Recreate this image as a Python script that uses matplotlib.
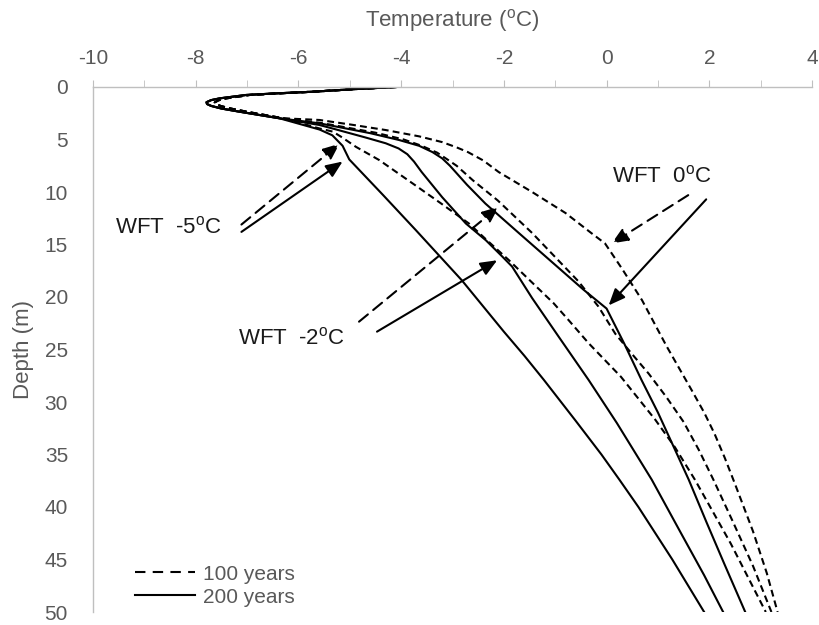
import matplotlib.pyplot as plt
from matplotlib.lines import Line2D
from matplotlib.ticker import MultipleLocator

plt.rcParams['font.family'] = ['Liberation Sans', 'DejaVu Sans']
plt.rcParams['mathtext.fontset'] = 'custom'
plt.rcParams['mathtext.rm'] = 'Liberation Sans'
plt.rcParams['axes.unicode_minus'] = False

GREY = '#595959'

# near-surface part (seasonal swing), slightly different for the two runs
nose_t_200 = [-4.09, -4.9, -5.72, -6.4, -7.02, -7.53, -7.7, -7.79, -7.78, -7.7, -7.5, -7.15, -6.37]
nose_d_200 = [0.0, 0.2, 0.45, 0.6, 0.76, 1.08, 1.25, 1.45, 1.62, 1.8, 2.05, 2.35, 2.98]
nose_t_100 = [-4.09, -4.9, -5.72, -6.35, -6.95, -7.4, -7.56, -7.63, -7.6, -7.5, -7.3, -6.98, -6.3]
nose_d_100 = [0.0, 0.2, 0.45, 0.6, 0.76, 1.08, 1.27, 1.47, 1.65, 1.83, 2.07, 2.38, 2.98]

# WFT -5 C
t100_m5 = [-5.59, -5.33, -5.15, -4.88, -4.43, -3.78, -3.22, -2.68, -2.35, -1.9, -1.71,
           -1.03, -0.74, -0.35, 0.28, 0.95, 1.33, 1.72, 2.42, 3.1]
d100_m5 = [3.95, 4.25, 4.8, 5.7, 6.95, 9.17, 11.1, 13.0, 14.5, 16.5, 17.4,
           20.6, 22.2, 24.4, 27.6, 31.7, 34.3, 37.4, 43.5, 50.0]
t200_m5 = [-5.59, -5.34, -5.14, -5.01, -4.35, -3.72, -2.82, -2.0, -1.6, -1.22, -0.6, -0.1,
           0.25, 0.62, 1.28, 1.9]
d200_m5 = [4.05, 4.6, 5.6, 6.9, 10.3, 13.6, 18.4, 23.3, 25.6, 27.9, 31.8, 35.0,
           37.4, 40.0, 45.0, 50.0]

# WFT -2 C
t100_m2 = [-5.59, -4.5, -3.95, -3.6, -3.3, -3.1, -2.92, -2.6, -2.12, -1.45, -1.0, -0.55,
           -0.16, 0.17, 0.49, 0.82, 1.16, 1.5, 1.8, 2.08, 2.45, 2.85, 3.21]
d100_m2 = [3.4, 4.35, 5.0, 5.6, 6.25, 6.9, 7.5, 8.9, 10.8, 13.9, 16.2, 18.5,
           20.9, 23.5, 25.4, 27.3, 29.5, 31.9, 34.6, 37.4, 41.3, 45.6, 50.0]
t200_m2 = [-5.59, -5.3, -4.7, -4.3, -4.05, -3.88, -3.75, -3.6, -3.2, -2.74, -2.35, -2.02,
           -1.84, -1.45, -0.93, -0.35, 0.2, 0.88, 1.45, 1.9, 2.27]
d200_m2 = [3.62, 4.0, 4.8, 5.36, 5.85, 6.4, 7.1, 8.1, 10.5, 13.0, 14.6, 16.2,
           17.1, 20.1, 23.8, 27.9, 32.0, 37.4, 42.5, 46.5, 50.0]

# WFT 0 C
t100_0 = [-5.59, -4.95, -4.3, -3.65, -3.2, -2.92, -2.7, -2.4, -2.1, -1.45, -0.8, -0.3,
          -0.03, 0.3, 0.69, 1.17, 1.66, 1.9, 2.1, 2.3, 2.5, 2.85, 3.12, 3.33]
d100_0 = [3.14, 3.6, 4.1, 4.7, 5.25, 5.75, 6.2, 7.0, 8.1, 10.0, 12.0, 13.9,
          14.9, 17.3, 20.3, 24.7, 28.9, 31.0, 33.0, 35.3, 37.8, 42.3, 46.3, 50.0]
t200_0 = [-5.59, -4.6, -4.04, -3.65, -3.39, -3.2, -3.05, -2.72, -2.36, -1.71, -1.08,
          -0.45, 0.0, 0.35, 0.68, 1.0, 1.3, 1.6, 1.95, 2.3, 2.7]
d200_0 = [3.46, 4.4, 5.05, 5.6, 6.2, 6.8, 7.5, 9.3, 11.1, 13.9, 16.6,
          19.3, 21.1, 24.5, 27.9, 31.0, 34.2, 37.4, 41.5, 45.5, 50.0]

dashed = [(t100_m5, d100_m5), (t100_m2, d100_m2), (t100_0, d100_0)]
solid = [(t200_m5, d200_m5), (t200_m2, d200_m2), (t200_0, d200_0)]

fig = plt.figure(figsize=(8.19, 6.25), dpi=100)
ax = fig.add_axes([93 / 819, 13 / 625, 719 / 819, 525 / 625])

for t, d in dashed:
    ax.plot(nose_t_100 + t, nose_d_100 + d, color='black', lw=1.5, dashes=(3.3, 2.0))
for t, d in solid:
    ax.plot(nose_t_200 + t, nose_d_200 + d, color='black', lw=1.5)

ax.set_xlim(-10, 4)
ax.set_ylim(50, 0)
ax.xaxis.tick_top()
ax.xaxis.set_label_position('top')
ax.xaxis.set_major_locator(MultipleLocator(2))
ax.xaxis.set_minor_locator(MultipleLocator(1))
ax.yaxis.set_major_locator(MultipleLocator(5))
ax.tick_params(axis='x', which='both', length=5, color='#bfbfbf', pad=9,
               labelsize=15, labelcolor=GREY)
ax.tick_params(axis='y', length=0, pad=18, labelsize=15, labelcolor=GREY)
for s in ['right', 'bottom']:
    ax.spines[s].set_visible(False)
for s in ['top', 'left']:
    ax.spines[s].set_color('#bfbfbf')
    ax.spines[s].set_linewidth(1.0)

ax.set_xlabel('Temperature ($^{\\mathrm{o}}$C)', fontsize=16, color=GREY, labelpad=16)
ax.set_ylabel('Depth (m)', fontsize=16, color=GREY, labelpad=8)

# WFT annotations
txt = dict(fontsize=16, color='#1a1a1a', va='center')
ax.text(-9.57, 13.4, 'WFT  -5$^{\\mathrm{o}}$C', ha='left', **txt)
ax.text(-7.18, 23.9, 'WFT  -2$^{\\mathrm{o}}$C', ha='left', **txt)
ax.text(0.10, 8.5, 'WFT  0$^{\\mathrm{o}}$C', ha='left', **txt)

head = '-|>,head_length=1.0,head_width=0.42'
arrows = [
    ((-5.2, 5.4), (-7.11, 13.1), '--'),
    ((-5.14, 7.1), (-7.11, 13.8), '-'),
    ((-2.10, 11.4), (-4.82, 22.35), '--'),
    ((-2.13, 16.5), (-4.47, 23.3), '-'),
    ((0.10, 14.9), (1.59, 10.3), '--'),
    ((0.04, 20.8), (1.94, 10.7), '-'),
]
for tip, tail, ls in arrows:
    lstyle = (0, (5.5, 3.3)) if ls == '--' else '-'
    ax.annotate('', xy=tip, xytext=tail,
                arrowprops=dict(arrowstyle=head, color='black', lw=1.5,
                                linestyle=lstyle, shrinkA=0, shrinkB=0,
                                mutation_scale=10))

handles = [Line2D([], [], color='black', lw=1.5, dashes=(5.0, 3.5)),
           Line2D([], [], color='black', lw=1.5)]
leg = ax.legend(handles, ['100 years', '200 years'], loc='lower left',
                bbox_to_anchor=(0.058, 0.01), frameon=False, fontsize=15,
                handlelength=2.9, handletextpad=0.4, labelspacing=0.2,
                borderpad=0, borderaxespad=0)
for tx in leg.get_texts():
    tx.set_color(GREY)

fig.savefig('out.png', dpi=100)
